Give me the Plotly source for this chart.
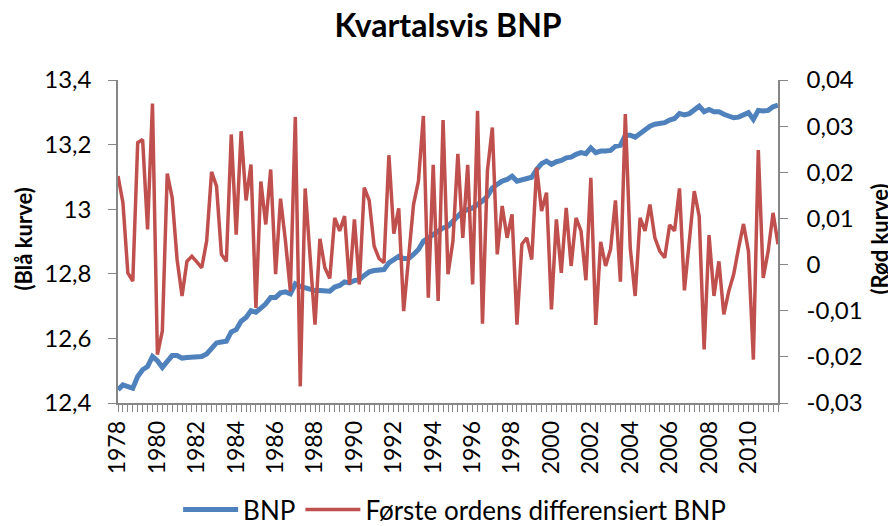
import plotly.graph_objects as go

# Kvartalsvis BNP (log) og forste ordens differens, 1978-2011
bnp = [12.441, 12.456, 12.451, 12.446, 12.482, 12.503, 12.513, 12.544, 12.531, 12.510,
       12.529, 12.547, 12.547, 12.539, 12.541, 12.542, 12.543, 12.544, 12.552, 12.570,
       12.586, 12.589, 12.591, 12.620, 12.627, 12.653, 12.665, 12.686, 12.681, 12.694,
       12.707, 12.727, 12.727, 12.741, 12.744, 12.738, 12.769, 12.761, 12.756, 12.751,
       12.748, 12.748, 12.748, 12.746, 12.759, 12.764, 12.775, 12.772, 12.779, 12.782,
       12.795, 12.806, 12.810, 12.810, 12.813, 12.834, 12.844, 12.854, 12.847, 12.847,
       12.860, 12.875, 12.901, 12.911, 12.922, 12.932, 12.942, 12.947, 12.963, 12.978,
       12.994, 12.999, 13.004, 13.015, 13.025, 13.040, 13.066, 13.077, 13.087, 13.092,
       13.102, 13.087, 13.092, 13.097, 13.099, 13.123, 13.141, 13.149, 13.139, 13.147,
       13.151, 13.159, 13.161, 13.170, 13.175, 13.172, 13.190, 13.175, 13.180, 13.180,
       13.182, 13.195, 13.198, 13.229, 13.229, 13.223, 13.234, 13.244, 13.257, 13.263,
       13.265, 13.268, 13.276, 13.281, 13.296, 13.292, 13.296, 13.309, 13.319, 13.302,
       13.309, 13.302, 13.302, 13.294, 13.287, 13.283, 13.285, 13.294, 13.299, 13.278,
       13.306, 13.304, 13.306, 13.317, 13.322]

diff_bnp = [0.0192, 0.0134, -0.0018, -0.0036, 0.0264, 0.0271, 0.0076, 0.0349, -0.0195, -0.0144,
            0.0197, 0.0145, 0.0011, -0.0068, 0.0007, 0.0018, 0.0006, -0.0007, 0.0051, 0.0201,
            0.0170, 0.0022, 0.0007, 0.0282, 0.0065, 0.0289, 0.0139, 0.0217, -0.0094, 0.0180,
            0.0087, 0.0206, -0.0021, 0.0143, 0.0051, -0.0058, 0.0320, -0.0264, 0.0165, 0.0022,
            -0.0130, 0.0056, -0.0007, -0.0030, 0.0101, 0.0073, 0.0105, -0.0043, 0.0098, -0.0043,
            0.0167, 0.0139, 0.0040, 0.0013, 0.0004, 0.0237, 0.0067, 0.0122, -0.0101, 0.0015,
            0.0130, 0.0181, 0.0322, -0.0072, 0.0216, -0.0079, 0.0313, -0.0021, 0.0051, 0.0240,
            0.0058, 0.0216, -0.0043, 0.0333, -0.0128, 0.0203, 0.0297, 0.0022, 0.0127, 0.0058,
            0.0109, -0.0130, 0.0044, 0.0058, 0.0011, 0.0210, 0.0116, 0.0156, -0.0097, 0.0098,
            -0.0018, 0.0123, -0.0003, 0.0101, 0.0073, -0.0034, 0.0188, -0.0131, 0.0049, -0.0003,
            0.0033, 0.0139, -0.0037, 0.0326, 0.0036, -0.0068, 0.0101, 0.0073, 0.0130, 0.0058,
            0.0029, 0.0015, 0.0086, 0.0073, 0.0165, -0.0056, 0.0051, 0.0159, 0.0105, -0.0184,
            0.0064, -0.0068, 0.0007, -0.0108, -0.0058, -0.0021, 0.0036, 0.0088, 0.0029, -0.0206,
            0.0248, -0.0029, 0.0029, 0.0112, 0.0044]

year_labels = ["1978", "1980", "1982", "1984", "1986", "1988", "1990", "1992", "1994",
               "1996", "1998", "2000", "2002", "2004", "2006", "2008", "2010"]

left_ticks = [12.4, 12.6, 12.8, 13.0, 13.2, 13.4]
left_text = ["12,4", "12,6", "12,8", "13", "13,2", "13,4"]
right_ticks = [-0.03, -0.02, -0.01, 0, 0.01, 0.02, 0.03, 0.04]
right_text = ["-0,03", "-0,02", "-0,01", "0", "0,01", "0,02", "0,03", "0,04"]

# one category per quarter, year label every 8th quarter
quarters = list(range(len(bnp)))
tick_text = [year_labels[i // 8] if i % 8 == 0 else "" for i in quarters]

FONT = "Lato, 'Open Sans', sans-serif"
AXIS = "#868686"

fig = go.Figure()
fig.add_trace(go.Scatter(x=quarters, y=bnp, name="BNP", mode="lines",
                         line=dict(color="#4F81BD", width=5)))
fig.add_trace(go.Scatter(x=quarters, y=diff_bnp, name="Første ordens differensiert BNP",
                         mode="lines", yaxis="y2",
                         line=dict(color="#C0504D", width=3.5)))

# the page body adds an 8px margin, so the figure is 8px smaller than the window
fig.update_layout(
    template="none",
    width=888, height=518,
    margin=dict(l=110, r=118, t=72, b=123, autoexpand=False),
    paper_bgcolor="white", plot_bgcolor="white",
    font=dict(family=FONT, size=24, color="black"),
    title=dict(text="<b>Kvartalsvis BNP</b>", x=0.4955, xanchor="center",
               y=0.965, yanchor="middle", font=dict(size=32)),
    xaxis=dict(range=[0, len(bnp) - 1], tickmode="array", tickvals=quarters,
               ticktext=tick_text, tickangle=-90, ticks="outside", ticklen=7,
               tickcolor=AXIS, showline=True, linecolor=AXIS, linewidth=1.5,
               showgrid=False, zeroline=False, automargin=False,
               tickfont=dict(size=23)),
    yaxis=dict(range=[12.4, 13.4], tickmode="array", tickvals=left_ticks,
               ticktext=left_text, ticks="outside", ticklen=8, tickcolor=AXIS,
               showline=True, linecolor=AXIS, linewidth=1.5, showgrid=False,
               zeroline=False, automargin=False, ticklabelstandoff=12),
    yaxis2=dict(range=[-0.03, 0.04], overlaying="y", side="right", tickmode="array",
                tickvals=right_ticks, ticktext=right_text, ticks="outside", ticklen=8,
                tickcolor=AXIS, showline=True, linecolor=AXIS, linewidth=1.5,
                showgrid=False, zeroline=False, automargin=False, ticklabelstandoff=14),
    legend=dict(orientation="h", x=0.51, xanchor="center", y=-0.33, yanchor="middle",
                font=dict(size=26), itemwidth=55, bgcolor="rgba(0,0,0,0)"),
    showlegend=True,
)

fig.add_annotation(text="<b>(Blå kurve)</b>", xref="paper", yref="paper",
                   x=(16 - 110) / 660, y=0.506, textangle=-90, showarrow=False,
                   xanchor="center", yanchor="middle", font=dict(size=22))
fig.add_annotation(text="<b>(Rød kurve)</b>", xref="paper", yref="paper",
                   x=(872 - 110) / 660, y=0.506, textangle=-90, showarrow=False,
                   xanchor="center", yanchor="middle", font=dict(size=22))

fig.write_html("out.html")
